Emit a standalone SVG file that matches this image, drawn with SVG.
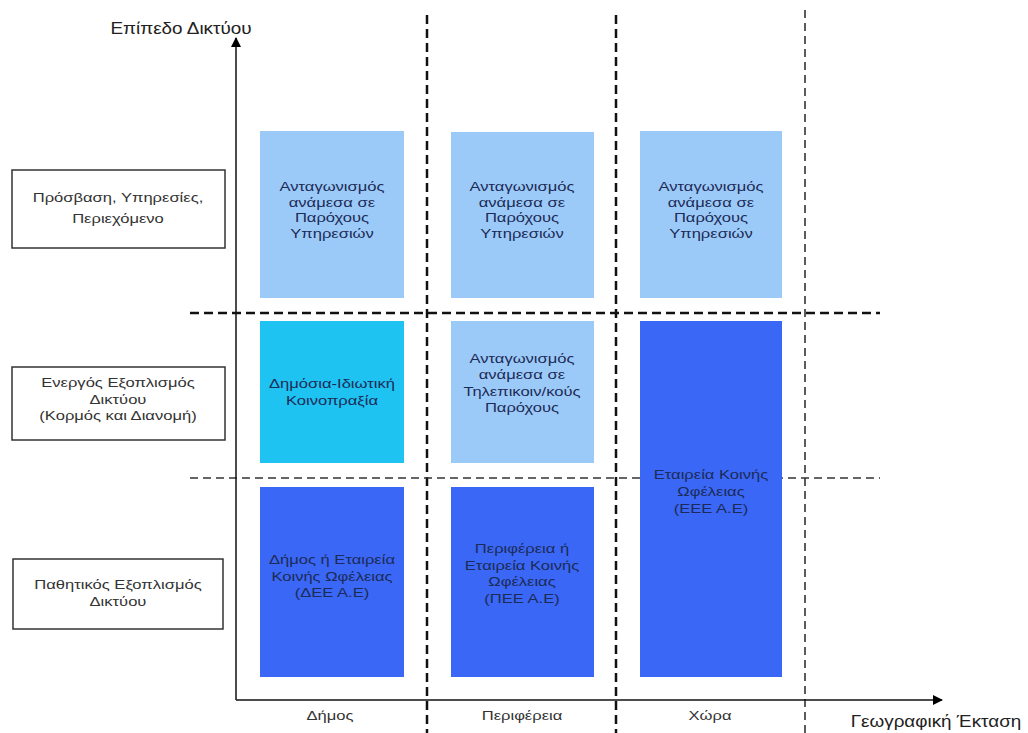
<svg xmlns="http://www.w3.org/2000/svg" width="1028" height="733" viewBox="0 0 1028 733">
  <defs>
    <marker id="arrow" viewBox="0 0 10 10" refX="9" refY="5" markerWidth="10" markerHeight="10" markerUnits="userSpaceOnUse" orient="auto">
      <path d="M0,0 L10,5 L0,10 z" fill="#000"/>
    </marker>
    <style>
      text { font-family: "Liberation Sans", Arial, sans-serif; text-anchor: middle;
             transform-box: fill-box; transform-origin: center; }
      .lbl { font-size: 12px; fill: #333; transform: scaleX(1.38); }
      .cell { font-size: 12px; fill: #1c2b57; transform: scaleX(1.38); }
      .axis-title { font-size: 16px; fill: #222; transform: scaleX(1.18); }
      .box { fill: #fff; stroke: #333; stroke-width: 1.5; }
      .light { fill: #9ccaf8; }
      .cyan { fill: #1ec3f2; }
      .dark { fill: #3a67f6; }
      .axis { stroke: #111; stroke-width: 1.5; fill: none; }
      .dash-heavy { stroke: #111; stroke-width: 2.5; stroke-dasharray: 9 5; fill: none; }
      .dash-light { stroke: #333; stroke-width: 1.6; stroke-dasharray: 8 5; fill: none; }
    </style>
  </defs>
  <rect width="1028" height="733" fill="#fff"/>

  <!-- grid separators and axes -->
  <g id="connectors">
    <line class="dash-heavy" x1="427" y1="15" x2="427" y2="733"/>
    <line class="dash-heavy" x1="616" y1="15" x2="616" y2="733"/>
    <line class="dash-light" x1="805" y1="10" x2="805" y2="733"/>
    <line class="dash-heavy" x1="190" y1="313" x2="880" y2="313"/>
    <line class="dash-light" x1="190" y1="478" x2="880" y2="478"/>
    <line class="axis" x1="236" y1="700" x2="236" y2="38" marker-end="url(#arrow)"/>
    <line class="axis" x1="236" y1="700" x2="942" y2="700" marker-end="url(#arrow)"/>
  </g>

  <!-- axis titles -->
  <text class="axis-title" x="181" y="34">Επίπεδο Δικτύου</text>
  <text class="axis-title" x="936" y="727">Γεωγραφική Έκταση</text>
  <text class="lbl" x="330" y="720">Δήμος</text>
  <text class="lbl" x="522" y="720">Περιφέρεια</text>
  <text class="lbl" x="710" y="720">Χώρα</text>

  <!-- layer labels -->
  <g id="layer-access">
    <rect class="box" x="12" y="170" width="213" height="78"/>
    <text class="lbl" x="118" y="202">Πρόσβαση, Υπηρεσίες,</text>
    <text class="lbl" x="118" y="223">Περιεχόμενο</text>
  </g>
  <g id="layer-active">
    <rect class="box" x="12" y="367" width="213" height="73"/>
    <text class="lbl" x="118" y="387">Ενεργός Εξοπλισμός</text>
    <text class="lbl" x="118" y="404">Δικτύου</text>
    <text class="lbl" x="118" y="420">(Κορμός και Διανομή)</text>
  </g>
  <g id="layer-passive">
    <rect class="box" x="13" y="559" width="210" height="70"/>
    <text class="lbl" x="118" y="589">Παθητικός Εξοπλισμός</text>
    <text class="lbl" x="118" y="606">Δικτύου</text>
  </g>

  <!-- row 1: services -->
  <g id="cell-municipal-services">
    <rect class="light" x="260" y="131" width="144" height="167"/>
    <text class="cell" x="332" y="191">Ανταγωνισμός</text>
    <text class="cell" x="332" y="207">ανάμεσα σε</text>
    <text class="cell" x="332" y="222">Παρόχους</text>
    <text class="cell" x="332" y="238">Υπηρεσιών</text>
  </g>
  <g id="cell-regional-services">
    <rect class="light" x="451" y="132" width="143" height="166"/>
    <text class="cell" x="522" y="191">Ανταγωνισμός</text>
    <text class="cell" x="522" y="207">ανάμεσα σε</text>
    <text class="cell" x="522" y="222">Παρόχους</text>
    <text class="cell" x="522" y="238">Υπηρεσιών</text>
  </g>
  <g id="cell-national-services">
    <rect class="light" x="640" y="131" width="142" height="167"/>
    <text class="cell" x="711" y="191">Ανταγωνισμός</text>
    <text class="cell" x="711" y="207">ανάμεσα σε</text>
    <text class="cell" x="711" y="222">Παρόχους</text>
    <text class="cell" x="711" y="238">Υπηρεσιών</text>
  </g>

  <!-- row 2: active equipment -->
  <g id="cell-municipal-active">
    <rect class="cyan" x="260" y="321" width="144" height="142"/>
    <text class="cell" x="332" y="388">Δημόσια-Ιδιωτική</text>
    <text class="cell" x="332" y="405">Κοινοπραξία</text>
  </g>
  <g id="cell-regional-active">
    <rect class="light" x="451" y="321" width="143" height="142"/>
    <text class="cell" x="522" y="363">Ανταγωνισμός</text>
    <text class="cell" x="522" y="379">ανάμεσα σε</text>
    <text class="cell" x="522" y="396">Τηλεπικοιν/κούς</text>
    <text class="cell" x="522" y="412">Παρόχους</text>
  </g>

  <!-- national column: active + passive -->
  <g id="cell-national-infra">
    <rect class="dark" x="640" y="321" width="142" height="356"/>
    <text class="cell" x="711" y="479">Εταιρεία Κοινής</text>
    <text class="cell" x="711" y="496">Ωφέλειας</text>
    <text class="cell" x="711" y="513">(ΕΕΕ Α.Ε)</text>
  </g>

  <!-- row 3: passive equipment -->
  <g id="cell-municipal-passive">
    <rect class="dark" x="260" y="487" width="144" height="190"/>
    <text class="cell" x="332" y="564">Δήμος ή Εταιρεία</text>
    <text class="cell" x="332" y="581">Κοινής Ωφέλειας</text>
    <text class="cell" x="332" y="597">(ΔΕΕ Α.Ε)</text>
  </g>
  <g id="cell-regional-passive">
    <rect class="dark" x="451" y="487" width="143" height="190"/>
    <text class="cell" x="522" y="553">Περιφέρεια ή</text>
    <text class="cell" x="522" y="570">Εταιρεία Κοινής</text>
    <text class="cell" x="522" y="586">Ωφέλειας</text>
    <text class="cell" x="522" y="603">(ΠΕΕ Α.Ε)</text>
  </g>
</svg>
